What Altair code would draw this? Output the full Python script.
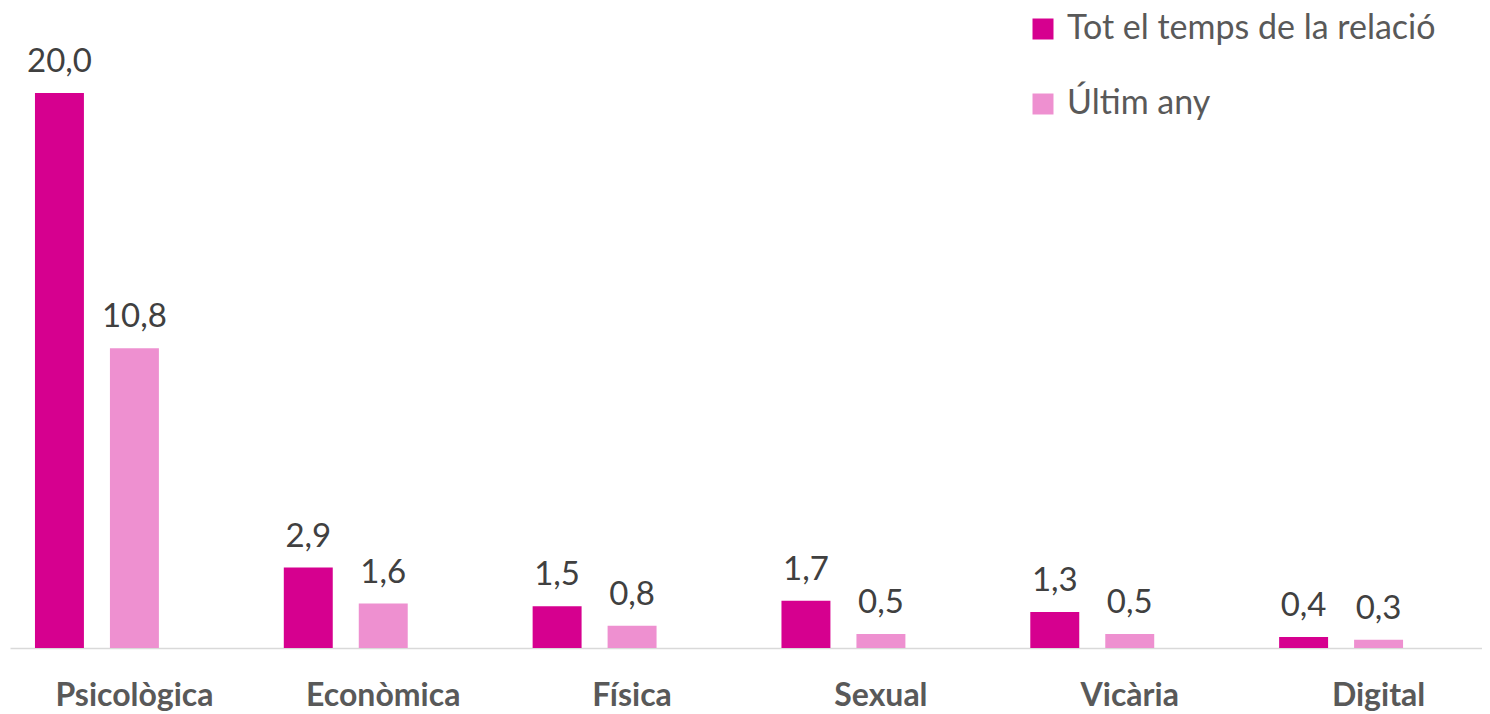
import altair as alt
import pandas as pd

categories = ["Psicològica", "Econòmica", "Física", "Sexual", "Vicària", "Digital"]
series = ["Tot el temps de la relació", "Últim any"]
tot_values = [20.0, 2.9, 1.5, 1.7, 1.3, 0.4]
ultim_values = [10.8, 1.6, 0.8, 0.5, 0.5, 0.3]
colors = ["#D6008F", "#EE90D0"]

rows = []
for cat, a, b in zip(categories, tot_values, ultim_values):
    for s, v in zip(series, (a, b)):
        rows.append({"cat": cat, "series": s, "value": v,
                     "label": f"{v:.1f}".replace(".", ",")})
df = pd.DataFrame(rows)

x_enc = alt.X(
    "cat:N", sort=categories, title=None,
    scale=alt.Scale(range=[0, 1493], paddingInner=0, paddingOuter=0),
    axis=alt.Axis(labelAngle=0, labelFontSize=32, labelFontWeight="bold",
                  labelColor="#595959", labelFont="Lato", ticks=False, tickSize=0,
                  labelPadding=32, domainColor="#D9D9D9", domainWidth=1.5,
                  grid=False, labelLimit=400),
)
xoff_enc = alt.XOffset(
    "series:N",
    scale=alt.Scale(domain=series + ["_"], paddingInner=0.347, paddingOuter=0.333),
)
y_enc = alt.Y("value:Q", scale=alt.Scale(domain=[0, 23.06], nice=False), axis=None)

base = alt.Chart(df).encode(x=x_enc, xOffset=xoff_enc, y=y_enc)

bars = base.mark_bar().encode(
    color=alt.Color(
        "series:N",
        scale=alt.Scale(domain=series, range=colors),
        legend=alt.Legend(orient="none", legendX=1016, legendY=4, title=None,
                          symbolType="square", symbolSize=441, symbolStrokeWidth=0,
                          symbolOpacity=1, labelFontSize=34, labelFont="Lato",
                          labelColor="#595959", labelOffset=7, rowPadding=41,
                          padding=0, labelLimit=600),
    )
)

labels = base.mark_text(baseline="alphabetic", dy=-21, fontSize=33, font="Lato",
                        color="#404040").encode(text="label:N")

chart = (bars + labels).properties(
    width=1472, height=640,
    autosize=alt.AutoSizeParams(type="none"),
    padding={"left": 2, "top": 0, "right": 0, "bottom": 66},
).configure(font="Lato").configure_view(stroke=None)

chart.save("out.html", embed_options={"renderer": "svg", "actions": False})
